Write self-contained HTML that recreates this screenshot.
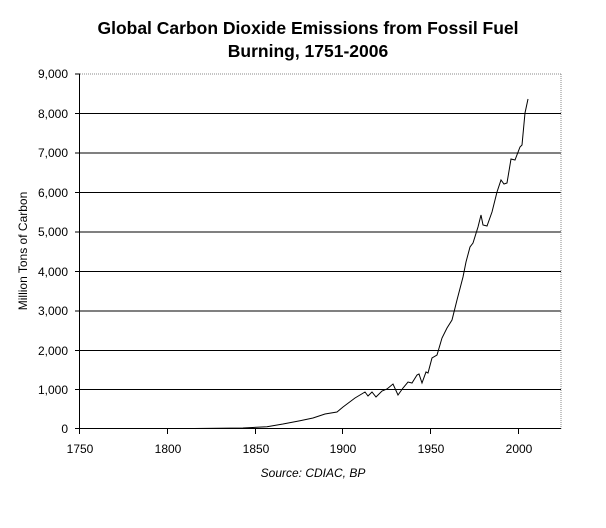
<!DOCTYPE html>
<html><head><meta charset="utf-8"><style>body{margin:0;background:#fff}</style></head><body>
<svg width="606" height="523" xmlns="http://www.w3.org/2000/svg" font-family="Liberation Sans, Arial, sans-serif">
<rect width="606" height="523" fill="#fff"/>
<text x="308" y="34" font-size="17.5" font-weight="bold" text-anchor="middle">Global Carbon Dioxide Emissions from Fossil Fuel</text>
<text x="308" y="57" font-size="17.5" font-weight="bold" text-anchor="middle">Burning, 1751-2006</text>
<g stroke="#000" stroke-width="1">
<line x1="80" y1="113.5" x2="561" y2="113.5"/>
<line x1="80" y1="153" x2="561" y2="153"/>
<line x1="80" y1="192.5" x2="561" y2="192.5"/>
<line x1="80" y1="232" x2="561" y2="232"/>
<line x1="80" y1="271.5" x2="561" y2="271.5"/>
<line x1="80" y1="311" x2="561" y2="311"/>
<line x1="80" y1="350.5" x2="561" y2="350.5"/>
<line x1="80" y1="389.5" x2="561" y2="389.5"/>
</g>
<line x1="80" y1="74" x2="561" y2="74" stroke="#888" stroke-dasharray="1,1"/>
<line x1="561" y1="74" x2="561" y2="429" stroke="#888" stroke-dasharray="1,1"/>
<g stroke="#000">
<line x1="79.5" y1="74" x2="79.5" y2="429"/>
<line x1="79.5" y1="428.5" x2="561" y2="428.5"/>
<line x1="75" y1="74" x2="80" y2="74"/>
<line x1="75" y1="113.5" x2="80" y2="113.5"/>
<line x1="75" y1="153" x2="80" y2="153"/>
<line x1="75" y1="192.5" x2="80" y2="192.5"/>
<line x1="75" y1="232" x2="80" y2="232"/>
<line x1="75" y1="271.5" x2="80" y2="271.5"/>
<line x1="75" y1="311" x2="80" y2="311"/>
<line x1="75" y1="350.5" x2="80" y2="350.5"/>
<line x1="75" y1="389.5" x2="80" y2="389.5"/>
<line x1="75" y1="428.5" x2="80" y2="428.5"/>
<line x1="79.5" y1="429" x2="79.5" y2="434"/>
<line x1="167.5" y1="429" x2="167.5" y2="434"/>
<line x1="255.5" y1="429" x2="255.5" y2="434"/>
<line x1="342.5" y1="429" x2="342.5" y2="434"/>
<line x1="430.5" y1="429" x2="430.5" y2="434"/>
<line x1="518.5" y1="429" x2="518.5" y2="434"/>
</g>
<g font-size="12" text-anchor="end">
<text x="68" y="78">9,000</text>
<text x="68" y="118">8,000</text>
<text x="68" y="157">7,000</text>
<text x="68" y="197">6,000</text>
<text x="68" y="236">5,000</text>
<text x="68" y="276">4,000</text>
<text x="68" y="315">3,000</text>
<text x="68" y="355">2,000</text>
<text x="68" y="394">1,000</text>
<text x="68" y="433">0</text>
</g>
<g font-size="12" text-anchor="middle">
<text x="80" y="453">1750</text>
<text x="168" y="453">1800</text>
<text x="256" y="453">1850</text>
<text x="343" y="453">1900</text>
<text x="431" y="453">1950</text>
<text x="519" y="453">2000</text>
</g>
<text transform="translate(27,251) rotate(-90)" font-size="12" text-anchor="middle">Million Tons of Carbon</text>
<text x="313" y="477" font-size="12" font-style="italic" text-anchor="middle">Source: CDIAC, BP</text>
<polyline fill="none" stroke="#000" stroke-width="1" points="194,428.5 243,428 267,426.7 283,424 300,420.7 313,418 325,414 337,412 343,407 355,398 365,392 368,396 372,392 376,397 382,391 387,389 393,384 398,395 403,388 408,382 412,383 417,375 419,374 422,383 426,372 428,373 432,358 437,355 442,338 447,328 452,320 457,300 463,277 466,262 470,247 473,243 478,227 481,215 483,225 487,226 492,212 497,192 501,180 504,184 507,183 511,159 515,160 520,147 522,145 525,113 528,99"/>
</svg>
</body></html>
